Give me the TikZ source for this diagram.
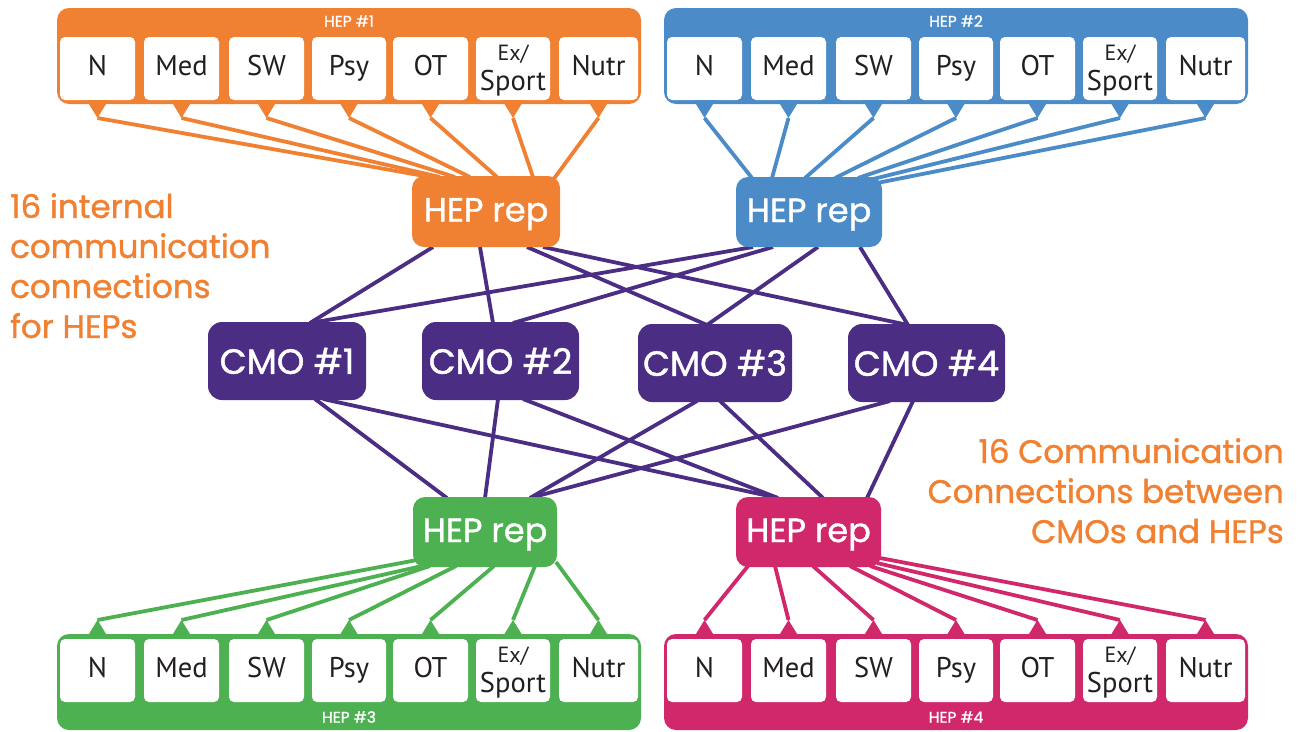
\documentclass[tikz,border=0pt]{standalone}
\usepackage{fontspec}
\setmainfont{PT Sans}
\newfontfamily\geo{Poppins}[FakeBold=1.2]
\usetikzlibrary{backgrounds}
\definecolor{hepor}{RGB}{240,129,50}
\definecolor{hepbl}{RGB}{74,139,200}
\definecolor{hepgr}{RGB}{77,176,81}
\definecolor{hepmg}{RGB}{209,39,107}
\definecolor{cmo}{RGB}{75,45,132}
\definecolor{ink}{RGB}{35,31,32}
\newcommand\exsport{\fontsize{22}{24}\selectfont Ex/\\Sport}
\tikzset{
  container/.style={fill=#1,rounded corners=12pt,inner sep=0pt,minimum width=584pt,minimum height=96pt},
  profbox/.style={fill=white,rounded corners=5pt,inner sep=0pt,minimum height=63pt,text=ink,align=center,font=\fontsize{28.5}{30}\selectfont},
  heptitle/.style={text=white,inner sep=0pt,font=\geo\fontsize{15.5}{16}\selectfont},
  rep/.style={fill=#1,rounded corners=12pt,inner sep=0pt,minimum width=146pt,minimum height=70pt,text=white,text height=23pt,text depth=3pt,font=\geo\fontsize{33.5}{34}\selectfont},
  cmobox/.style={fill=cmo,rounded corners=14pt,inner sep=0pt,minimum width=157pt,minimum height=78pt,text=white,font=\geo\fontsize{35}{35}\selectfont},
  link/.style={draw=#1,line width=3.8pt},
  note/.style={text=hepor,inner sep=0pt,font=\geo\fontsize{32.5}{40}\selectfont},
}
\begin{document}
\begin{tikzpicture}[x=1pt,y=-1pt]
\useasboundingbox (0,0) rectangle (1301,731);

% HEP containers
\node[container=hepor] (hep1) at (349,56) {};
\node[container=hepbl] (hep2) at (956,56) {};
\node[container=hepgr] (hep3) at (349,682) {};
\node[container=hepmg] (hep4) at (956,682) {};
\node[heptitle] (t1) at (349,21) {HEP \#1};
\node[heptitle] (t2) at (956,21) {HEP \#2};
\node[heptitle] (t3) at (349,717) {HEP \#3};
\node[heptitle] (t4) at (956,717) {HEP \#4};

% profession boxes and tabs
\foreach \lab/\cx/\w [count=\i] in {N/97.5/75,Med/181.5/75,SW/266.5/75,Psy/349/74,OT/430.5/75,\exsport/513/74,Nutr/598.5/79}{
  \node[profbox,minimum width=\w pt] (a\i) at (\cx,68.5) {\vphantom{Ny}\lab};
  \node[profbox,minimum width=\w pt] (b\i) at (\cx+607,68.5) {\vphantom{Ny}\lab};
  \node[profbox,minimum width=\w pt] (c\i) at (\cx,670.5) {\vphantom{Ny}\lab};
  \node[profbox,minimum width=\w pt] (d\i) at (\cx+607,670.5) {\vphantom{Ny}\lab};
  \fill[hepor] (\cx-11,100) -- (\cx+11,100) -- (\cx,118) coordinate (ta\i) -- cycle;
  \fill[hepbl] (\cx+596,100) -- (\cx+618,100) -- (\cx+607,118) coordinate (tb\i) -- cycle;
  \fill[hepgr] (\cx-11,638) -- (\cx+11,638) -- (\cx,620) coordinate (tc\i) -- cycle;
  \fill[hepmg] (\cx+596,638) -- (\cx+618,638) -- (\cx+607,620) coordinate (td\i) -- cycle;
}

% HEP reps
\node[rep=hepor,minimum width=148pt,minimum height=71pt] (rOr) at (486,211.5) {HEP rep};
\node[rep=hepbl] (rBl) at (809,212) {HEP rep};
\node[rep=hepgr,minimum width=144pt] (rGr) at (485,532) {HEP rep};
\node[rep=hepmg,minimum width=145pt] (rMg) at (808.5,532) {HEP rep};

% CMOs
\node[cmobox,minimum width=158pt] (cmo1) at (287,361) {CMO \#1};
\node[cmobox] (cmo2) at (500.5,361) {CMO \#2};
\node[cmobox,minimum width=154pt] (cmo3) at (715,363) {CMO \#3};
\node[cmobox] (cmo4) at (926.5,363) {CMO \#4};

% notes
\node[note,align=left,anchor=north west] (noteL) at (10,193) {16 internal\\communication\\connections\\for HEPs};
\node[note,align=right,anchor=north east] (noteR) at (1284,438) {16 Communication\\Connections between\\CMOs and HEPs};

% attach points on reps
\foreach \x/\y [count=\i] in {430/177,440/177,455/177,470/177,497/177,533/177,553/180}{\coordinate (pa\i) at (\x,\y);}
\foreach \x/\y [count=\i] in {752/178,772/178,805/178,835/178,858/178,869/180,877/183}{\coordinate (pb\i) at (\x,\y);}
\foreach \x/\y [count=\i] in {417/560,422/566,430/566,456/566,494/566,535/566,556/562}{\coordinate (pc\i) at (\x,\y);}
\foreach \x/\y [count=\i] in {748/566,775/566,813/566,850/566,870/566,877/563,880/558}{\coordinate (pd\i) at (\x,\y);}

% attach points for CMO links
\foreach \n/\x/\y in {
  oc1/433/247, oc2/480/247, oc3/527/247, oc4/543/247,
  bc1/753/247, bc2/773/247, bc3/818/247, bc4/860/247,
  c1t/310/323, c2to/493/323, c2tb/513/323, c3t/707/325, c4t/908/325,
  c1g/315/399, c1m/323/399, c2g/498/399, c2m/523/399,
  c3g/697/401, c3m/720/401, c4g/890/401, c4m/913/401,
  gA/447/498, gB/485/498, gC/530/498,
  mA/778/498, mB/823/498, mC/867/498}{\coordinate (\n) at (\x,\y);}

\begin{pgfonlayer}{background}
  \foreach \i in {1,...,7}{
    \draw[link=hepor] (ta\i) -- (pa\i);
    \draw[link=hepbl] (tb\i) -- (pb\i);
    \draw[link=hepgr] (tc\i) -- (pc\i);
    \draw[link=hepmg] (td\i) -- (pd\i);
  }
  \draw[link=cmo] (oc1) -- (c1t);
  \draw[link=cmo] (bc1) -- (c1t);
  \draw[link=cmo] (oc2) -- (c2to);
  \draw[link=cmo] (bc2) -- (c2tb);
  \draw[link=cmo] (oc3) -- (c3t);
  \draw[link=cmo] (bc3) -- (c3t);
  \draw[link=cmo] (oc4) -- (c4t);
  \draw[link=cmo] (bc4) -- (c4t);
  \draw[link=cmo] (c1g) -- (gA);
  \draw[link=cmo] (c1m) -- (mA);
  \draw[link=cmo] (c2g) -- (gB);
  \draw[link=cmo] (c2m) -- (mA);
  \draw[link=cmo] (c3g) -- (gC);
  \draw[link=cmo] (c3m) -- (mB);
  \draw[link=cmo] (c4g) -- (gC);
  \draw[link=cmo] (c4m) -- (mC);
\end{pgfonlayer}
\end{tikzpicture}
\end{document}
